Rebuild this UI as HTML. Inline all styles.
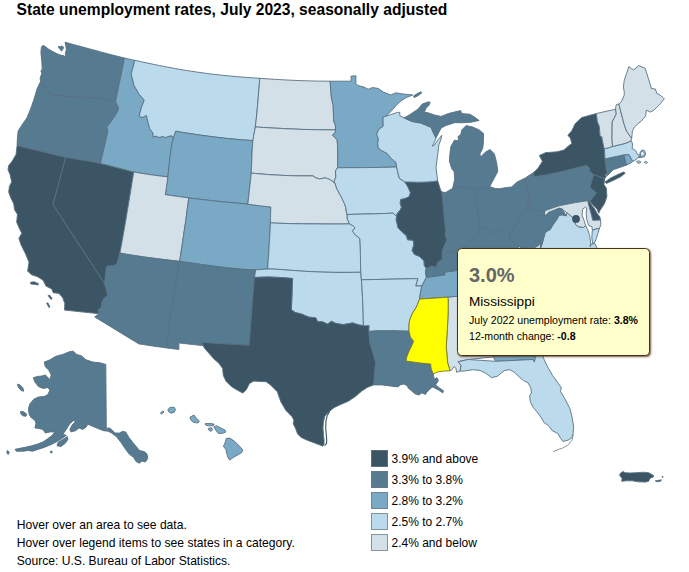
<!DOCTYPE html>
<html><head><meta charset="utf-8"><title>State unemployment rates, July 2023, seasonally adjusted</title>
<style>
html,body{margin:0;padding:0;background:#fff;}
body{width:689px;height:572px;position:relative;overflow:hidden;font-family:"Liberation Sans",Arial,sans-serif;color:#000;}
#title{position:absolute;left:16.6px;top:1px;font-size:15.6px;font-weight:bold;letter-spacing:0px;white-space:nowrap;}
svg#map{position:absolute;left:0;top:0;}
svg#map path{stroke:#587082;stroke-width:0.9;stroke-linejoin:round;}
.foot{position:absolute;left:16.7px;font-size:12.1px;white-space:nowrap;}
.leg{position:absolute;left:371px;font-size:12px;white-space:nowrap;}
.leg i{position:absolute;left:0;top:0;width:16.6px;height:16.6px;border:1px solid rgba(110,122,130,.75);box-sizing:border-box;}
.leg span{position:absolute;left:20.5px;top:1.7px;}
#tip{position:absolute;left:457px;top:248px;width:192.6px;height:107.6px;box-sizing:border-box;background:#ffffcc;border:1px solid #4a3018;border-radius:4.5px;box-shadow:1px 1px 2px rgba(70,40,15,.75);}
#tip .big{position:absolute;left:11px;top:14.5px;font-size:20px;font-weight:bold;color:#666;}
#tip .nm{position:absolute;left:11px;top:45px;font-size:13.6px;}
#tip .l1{position:absolute;left:11px;top:64.9px;font-size:10.6px;white-space:nowrap;}
#tip .l2{position:absolute;left:11px;top:80.6px;font-size:10.6px;white-space:nowrap;}
</style></head><body>
<div id="title">State unemployment rates, July 2023, seasonally adjusted</div>
<svg id="map" width="689" height="572" viewBox="0 0 689 572">
<path id="WA" d="M65.1,42.2L69.0,43.3L73.0,44.4L76.9,45.5L80.9,46.5L84.8,47.6L88.8,48.7L92.7,49.7L96.7,50.8L100.6,51.9L104.6,52.9L108.6,54.0L112.6,55.0L116.5,56.0L120.5,57.0L124.5,58.0L115.6,101.5L115.6,101.5L108.0,100.2L101.0,98.6L90.0,98.0L75.0,97.2L62.0,96.2L52.2,95.0L48.0,92.5L44.5,88.0L40.8,81.0L40.1,78.7L40.5,77.0L41.8,73.5L40.9,70.9L42.2,69.1L41.8,61.2L40.9,52.5L41.4,47.2L42.7,45.5L44.4,45.9L48.4,49.0L52.8,51.6L57.1,53.8L60.6,55.1L64.1,55.8L65.4,58.6L65.4,52.9L66.3,49.9L65.9,46.4ZM58.4,46.4L60.2,46.8L61.9,45.9L63.7,47.2L62.8,49.4L61.5,51.2L60.2,49.4L58.9,48.1Z" fill="#567a90"/>
<path id="OR" d="M40.8,81.0L44.5,88.0L48.0,92.5L52.2,95.0L62.0,96.2L75.0,97.2L90.0,98.0L101.0,98.6L108.0,100.2L115.6,101.5L118.1,106.8L118.4,110.0L114.8,116.2L110.4,122.7L106.8,127.1L107.9,131.2L100.5,163.5L96.2,162.6L91.9,161.8L87.6,161.0L83.2,160.3L78.8,159.6L74.5,158.9L70.1,158.2L65.7,157.4L17.1,145.2L17.4,138.2L18.1,131.0L21.8,125.2L26.9,117.9L30.5,109.2L34.1,99.0L37.0,88.9Z" fill="#567a90"/>
<path id="CA" d="M65.7,157.4L53.0,204.6L104.6,283.5L106.2,289.0L107.7,295.6L104.0,298.5L101.8,302.8L101.1,307.9L98.2,310.1L98.9,313.7L64.5,310.1L64.8,303.5L62.7,297.7L59.0,293.4L53.2,292.7L51.8,289.0L46.0,286.1L43.1,280.3L37.7,276.8L31.2,274.6L27.6,271.0L29.0,262.2L25.4,253.5L21.0,244.8L18.9,238.3L21.8,233.2L19.6,228.9L16.7,222.3L17.4,214.3L14.5,209.7L13.8,203.9L10.9,198.1L8.7,192.2L9.4,186.4L11.6,182.1L10.2,174.8L8.0,169.8L8.7,165.4L12.3,161.0L16.0,154.5L17.1,145.5ZM30.5,282.3L34.1,281.8L38.5,283.7L38.0,285.0L34.1,284.3L30.8,284.0ZM48.1,295.6L49.6,295.1L52.1,298.5L51.0,299.5ZM46.7,303.2L47.9,302.8L49.9,306.7L48.9,307.6Z" fill="#3b5565"/>
<path id="NV" d="M65.7,157.4L53.0,204.6L104.6,283.5L105.5,276.0L106.3,268.5L107.6,265.9L114.2,265.8L117.0,263.5L119.9,253.1L121.0,247.2L122.1,241.2L123.2,235.2L124.3,229.1L125.3,223.0L126.4,216.8L127.4,210.5L128.5,204.2L129.5,197.9L130.6,191.4L131.6,185.0L132.7,178.5L133.8,171.9L129.4,170.9L125.0,169.7L120.6,168.6L116.2,167.4L111.8,166.2L107.4,165.1L102.9,164.0L98.3,163.0L93.7,162.1L89.1,161.3L84.5,160.5L79.8,159.7L75.1,159.0L70.4,158.2Z" fill="#3b5565"/>
<path id="ID" d="M124.5,58.0L115.6,101.5L118.1,106.8L118.4,110.0L114.8,116.2L110.4,122.7L106.8,127.1L107.9,131.2L100.5,163.5L105.0,164.5L109.5,165.6L114.0,166.8L118.4,168.0L122.8,169.1L127.2,170.3L131.6,171.4L136.0,172.4L140.5,173.2L145.0,173.9L149.5,174.6L154.0,175.2L158.6,175.8L163.2,176.4L167.8,177.0L168.5,171.1L169.1,165.4L169.7,159.8L170.4,154.3L171.1,148.9L172.0,143.6L173.2,138.5L171.8,135.8L169.2,136.1L165.6,137.5L162.7,136.5L159.0,137.5L156.1,136.1L153.2,137.0L152.9,132.9L149.6,128.5L148.1,122.7L146.4,115.4L142.1,117.6L139.2,116.1L141.4,107.4L144.3,100.2L139.2,94.3L134.1,85.6L131.2,74.0L134.8,60.3L131.4,59.6L127.9,58.8Z" fill="#7aa9c6"/>
<path id="MT" d="M134.8,60.3L131.2,74.0L134.1,85.6L139.2,94.3L144.3,100.2L141.4,107.4L139.2,116.1L142.1,117.6L146.4,115.4L148.1,122.7L149.6,128.5L152.9,132.9L153.2,137.0L156.1,136.1L159.0,137.5L162.7,136.5L165.6,137.5L169.2,136.1L171.8,135.8L173.2,138.5L174.5,134.9L175.8,131.2L180.0,132.0L184.3,132.7L188.5,133.4L192.9,134.0L197.2,134.7L201.6,135.3L205.9,135.9L210.3,136.5L214.6,137.0L219.0,137.5L223.3,138.0L227.6,138.5L231.9,138.9L236.2,139.3L240.4,139.7L244.6,140.0L248.8,140.3L253.0,140.6L253.9,134.7L255.0,129.0L255.8,123.0L256.5,116.7L257.1,110.4L257.7,104.0L258.2,97.6L258.8,91.2L259.3,84.7L259.8,78.3L255.8,78.0L251.8,77.8L247.8,77.5L243.9,77.2L239.9,76.9L235.9,76.5L231.9,76.2L227.9,75.8L223.9,75.4L219.9,75.0L215.9,74.5L211.9,74.1L207.8,73.6L203.8,73.0L199.8,72.5L195.8,71.9L191.7,71.3L187.7,70.7L183.6,70.0L179.6,69.3L175.5,68.6L171.5,67.8L167.4,67.1L163.3,66.3L159.3,65.5L155.2,64.7L151.1,63.8L147.0,63.0L142.9,62.1L138.9,61.2Z" fill="#bbdaec"/>
<path id="WY" d="M175.8,131.2L180.0,132.0L184.2,132.7L188.5,133.4L192.8,134.0L197.2,134.7L201.5,135.3L205.9,135.9L210.2,136.4L214.6,137.0L218.9,137.5L223.2,138.0L227.5,138.5L231.8,138.9L236.1,139.3L240.3,139.7L244.5,140.0L248.7,140.3L252.9,140.6L252.4,146.9L252.0,153.4L251.8,160.0L251.5,166.6L251.2,173.1L250.6,179.4L249.9,185.6L249.2,191.8L248.5,197.9L247.8,204.2L243.3,203.7L238.8,203.3L234.2,202.9L229.6,202.5L225.0,202.0L220.4,201.5L215.8,201.1L211.2,200.6L206.6,200.1L201.9,199.5L197.3,199.0L192.7,198.4L188.1,197.8L183.6,197.2L179.0,196.6L174.4,195.9L169.8,195.3L165.3,194.7L166.3,187.6L167.3,180.5L168.2,173.6L168.9,167.1L169.6,160.7L170.4,154.5L171.2,148.3L172.3,142.4L173.8,136.7Z" fill="#7aa9c6"/>
<path id="UT" d="M133.8,171.9L138.0,172.7L142.2,173.4L146.4,174.1L150.6,174.7L154.9,175.3L159.2,175.9L163.5,176.4L167.8,177.0L167.0,182.9L166.2,188.8L165.3,194.7L170.0,195.3L174.7,196.0L179.4,196.6L184.1,197.3L188.8,197.9L187.9,204.5L187.0,211.1L186.2,217.6L185.3,224.0L184.3,230.3L183.4,236.6L182.5,242.9L181.5,249.1L180.6,255.2L179.6,261.4L174.9,260.8L170.3,260.3L165.6,259.7L161.0,259.2L156.4,258.6L151.9,258.0L147.3,257.4L142.7,256.8L138.2,256.1L133.6,255.4L129.1,254.7L124.5,253.9L119.9,253.1L121.0,247.2L122.1,241.2L123.2,235.2L124.3,229.1L125.3,223.0L126.4,216.8L127.4,210.5L128.5,204.2L129.5,197.9L130.6,191.4L131.6,185.0L132.7,178.5Z" fill="#d3e0e7"/>
<path id="CO" d="M188.8,197.9L193.4,198.5L198.0,199.0L202.6,199.6L207.2,200.1L211.8,200.6L216.5,201.1L221.1,201.6L225.7,202.1L230.3,202.5L234.9,202.9L239.4,203.4L243.9,203.8L248.4,204.3L252.9,204.9L257.4,205.5L261.9,206.0L266.3,206.6L270.8,207.0L270.6,213.3L270.5,219.7L270.3,225.9L270.0,232.2L269.6,238.4L269.2,244.5L268.8,250.7L268.4,256.8L268.0,262.9L267.6,269.0L262.7,269.3L257.8,269.7L252.9,269.8L248.0,269.6L243.0,269.3L238.1,268.9L233.2,268.4L228.3,267.9L223.4,267.3L218.5,266.7L213.5,266.1L208.6,265.4L203.8,264.8L198.9,264.1L194.0,263.4L189.2,262.7L184.4,262.0L179.6,261.4L180.6,255.2L181.5,249.1L182.5,242.9L183.4,236.6L184.3,230.3L185.3,224.0L186.2,217.6L187.0,211.1L187.9,204.5Z" fill="#7aa9c6"/>
<path id="AZ" d="M119.9,253.1L117.0,263.5L114.2,265.8L107.6,265.9L106.3,268.5L105.5,276.0L104.6,283.5L106.2,289.0L107.7,295.6L104.0,298.5L101.8,302.8L101.1,307.9L98.2,310.1L98.9,313.7L94.6,316.9L138.9,343.9L143.4,344.6L148.1,345.3L152.7,346.0L157.4,346.7L162.1,347.3L166.9,348.0L167.3,342.4L167.8,336.8L168.4,331.1L169.2,325.4L170.1,319.7L171.0,314.0L172.0,308.3L172.9,302.5L173.9,296.7L174.9,290.8L175.8,285.0L176.8,279.1L177.7,273.2L178.7,267.3L179.6,261.4L174.9,260.8L170.3,260.3L165.6,259.7L161.0,259.2L156.4,258.6L151.9,258.0L147.3,257.4L142.7,256.8L138.2,256.1L133.6,255.4L129.1,254.7L124.5,253.9Z" fill="#567a90"/>
<path id="NM" d="M179.6,261.4L184.2,262.0L188.9,262.7L193.6,263.3L198.3,264.0L203.1,264.7L207.8,265.3L212.6,266.0L217.4,266.6L222.1,267.2L226.9,267.7L231.7,268.3L236.5,268.7L241.3,269.2L246.0,269.5L250.8,269.8L255.6,269.8L255.1,273.6L254.5,277.4L254.0,283.1L253.5,288.8L253.1,294.6L252.6,300.3L252.1,306.0L251.7,311.6L251.3,317.3L250.8,322.9L250.4,328.4L250.0,334.0L249.5,339.6L249.1,345.2L243.9,344.9L238.7,344.6L233.5,344.3L228.2,344.1L223.0,343.8L217.7,343.4L212.4,343.1L207.0,342.7L201.6,342.2L202.6,345.6L197.9,345.1L193.2,344.6L188.5,344.1L183.7,343.5L178.9,342.9L178.9,346.2L178.9,349.5L174.9,349.0L170.9,348.5L166.9,348.0L167.3,342.4L167.8,336.8L168.4,331.1L169.2,325.4L170.1,319.7L171.0,314.0L172.0,308.3L172.9,302.5L173.9,296.7L174.9,290.8L175.8,285.0L176.8,279.1L177.7,273.2L178.7,267.3Z" fill="#567a90"/>
<path id="ND" d="M259.8,78.3L263.7,78.6L267.6,78.8L271.5,79.1L275.4,79.4L279.3,79.6L283.2,79.8L287.1,80.0L291.0,80.2L294.9,80.4L298.8,80.5L302.7,80.7L306.6,80.8L310.5,80.9L314.5,81.0L318.4,81.1L322.3,81.1L326.3,81.2L330.2,81.2L330.4,85.2L330.7,89.2L331.1,93.8L331.5,98.4L332.3,101.8L333.2,105.1L333.3,110.1L333.5,115.2L333.7,121.0L335.3,124.7L335.7,129.9L331.4,129.9L327.2,129.9L322.9,129.8L318.7,129.8L314.4,129.7L310.2,129.6L306.0,129.5L301.7,129.4L297.5,129.2L293.3,129.0L289.0,128.9L284.8,128.7L280.6,128.4L276.3,128.2L272.1,128.0L267.9,127.7L263.7,127.5L259.5,127.2L255.3,126.9L256.0,121.1L256.7,115.1L257.3,109.0L257.8,102.9L258.3,96.8L258.8,90.6L259.3,84.4Z" fill="#d3e0e7"/>
<path id="SD" d="M255.3,126.9L259.5,127.2L263.7,127.5L267.9,127.7L272.1,128.0L276.3,128.2L280.6,128.4L284.8,128.7L289.0,128.9L293.3,129.0L297.5,129.2L301.7,129.4L306.0,129.5L310.2,129.6L314.4,129.7L318.7,129.8L322.9,129.8L327.2,129.9L331.4,129.9L335.7,129.9L335.3,132.1L332.6,135.2L337.2,139.9L337.5,145.5L337.7,151.0L337.8,156.6L337.8,162.2L337.5,167.8L335.5,170.9L335.8,177.2L334.1,181.2L335.2,183.7L332.4,181.2L329.3,179.3L327.2,178.6L325.1,177.8L322.3,178.4L319.5,179.0L315.1,177.5L313.0,175.9L308.5,175.9L304.0,175.9L299.6,175.9L295.1,175.8L290.6,175.7L286.2,175.5L281.8,175.3L277.4,175.1L273.0,174.9L268.6,174.6L264.3,174.2L259.9,173.9L255.6,173.5L251.2,173.1L251.5,166.6L251.8,160.0L252.0,153.4L252.4,146.9L252.9,140.6L253.6,136.0L254.5,131.5Z" fill="#d3e0e7"/>
<path id="NE" d="M251.2,173.1L255.6,173.5L259.9,173.9L264.3,174.2L268.6,174.6L273.0,174.9L277.4,175.1L281.8,175.3L286.2,175.5L290.6,175.7L295.1,175.8L299.6,175.9L304.0,175.9L308.5,175.9L313.0,175.9L315.1,177.5L319.5,179.0L322.3,178.4L325.1,177.8L327.2,178.6L329.3,179.3L332.4,181.2L335.2,183.7L336.6,188.3L338.7,192.3L341.0,196.4L342.7,199.9L344.4,203.5L345.9,207.7L346.3,211.7L347.1,214.5L347.3,219.0L349.6,223.9L345.7,223.9L341.7,224.0L337.4,224.0L332.7,224.0L328.0,224.0L323.1,224.0L318.3,223.9L313.4,223.9L308.5,223.9L303.7,223.8L298.9,223.7L294.1,223.7L289.3,223.6L284.6,223.4L279.8,223.3L275.1,223.1L270.4,222.8L270.5,217.6L270.6,212.3L270.8,207.0L266.2,206.5L261.6,206.0L257.0,205.4L252.4,204.8L247.8,204.2L248.5,197.9L249.2,191.8L249.9,185.6L250.6,179.4Z" fill="#d3e0e7"/>
<path id="KS" d="M270.4,222.8L275.1,223.1L279.8,223.3L284.6,223.4L289.3,223.6L294.1,223.7L298.9,223.7L303.7,223.8L308.5,223.9L313.4,223.9L318.3,223.9L323.1,224.0L328.0,224.0L332.7,224.0L337.4,224.0L341.7,224.0L345.7,223.9L349.6,223.9L353.3,226.0L355.0,227.7L352.5,231.3L355.6,235.1L359.8,238.5L360.2,244.3L360.4,250.0L360.5,255.7L360.6,261.3L360.7,266.9L360.9,272.3L356.0,272.3L351.1,272.4L346.1,272.4L341.2,272.4L336.2,272.4L331.2,272.3L326.3,272.2L321.3,272.1L316.4,271.9L311.5,271.6L306.5,271.4L301.6,271.1L296.7,270.7L291.8,270.4L287.0,270.0L282.2,269.6L277.3,269.3L272.5,269.1L267.6,269.0L268.0,263.3L268.4,257.6L268.8,251.9L269.1,246.1L269.5,240.3L269.8,234.5L270.2,228.7Z" fill="#bbdaec"/>
<path id="OK" d="M255.6,269.8L260.7,269.5L265.7,269.1L270.7,269.0L275.6,269.2L280.6,269.5L285.5,269.9L290.4,270.3L295.4,270.6L300.4,271.0L305.4,271.3L310.4,271.6L315.4,271.8L320.5,272.0L325.5,272.2L330.5,272.3L335.6,272.4L340.7,272.4L345.7,272.4L350.8,272.4L355.8,272.3L360.8,272.3L361.1,276.0L361.4,279.8L361.9,285.6L362.2,291.6L362.5,297.6L362.8,303.6L363.0,309.6L363.2,315.3L363.3,320.8L363.4,325.7L363.4,325.7L359.2,325.0L355.9,324.0L352.6,322.9L348.0,323.8L343.3,324.6L339.4,324.0L335.4,323.2L331.5,321.3L327.5,324.1L322.3,321.7L317.7,321.8L315.8,317.9L312.6,317.5L309.3,317.2L305.4,315.7L301.6,314.1L298.4,313.3L295.2,312.5L291.4,309.7L291.6,303.6L291.9,297.3L292.1,291.1L292.3,284.8L292.6,278.5L287.9,278.1L283.1,277.7L278.4,277.4L273.7,277.2L268.9,277.0L264.1,277.1L259.3,277.3L254.5,277.4L255.1,273.6Z" fill="#bbdaec"/>
<path id="TX" d="M254.5,277.4L259.3,277.3L264.1,277.1L268.9,277.0L273.7,277.2L278.4,277.4L283.1,277.7L287.9,278.1L292.6,278.5L292.3,284.8L292.1,291.1L291.9,297.3L291.6,303.6L291.4,309.7L295.2,312.5L298.4,313.3L301.6,314.1L305.4,315.7L309.3,317.2L312.6,317.5L315.8,317.9L317.7,321.8L322.3,321.7L327.5,324.1L331.5,321.3L335.4,323.2L339.4,324.0L343.3,324.6L348.0,323.8L352.6,322.9L355.9,324.0L359.2,325.0L363.4,325.7L366.3,325.7L369.1,325.5L369.0,328.5L368.9,331.5L369.8,343.1L372.7,351.8L375.6,361.9L374.8,372.1L373.7,384.9L367.6,387.3L361.8,391.0L356.0,396.0L348.7,401.1L340.0,404.8L333.9,407.7L328.1,412.5L324.9,416.1L323.4,422.2L323.0,428.1L323.4,433.9L324.0,439.7L324.1,443.7L323.0,446.2L319.4,444.8L313.5,442.6L307.7,440.4L301.2,437.5L297.6,433.9L295.4,428.1L293.2,423.7L293.9,420.1L291.8,416.4L286.0,410.6L280.9,401.9L277.3,391.8L270.0,384.5L266.1,381.7L258.9,381.4L253.8,381.1L249.4,383.6L246.5,389.4L242.9,393.1L237.1,390.1L231.3,386.5L226.2,381.4L223.3,375.6L222.6,368.4L218.9,363.3L213.9,358.9L208.8,353.1L204.4,348.1L201.5,342.6L201.6,342.2L207.0,342.7L212.4,343.1L217.7,343.4L223.0,343.8L228.2,344.1L233.5,344.3L238.7,344.6L243.9,344.9L249.1,345.2L249.5,339.6L250.0,334.0L250.4,328.4L250.8,322.9L251.3,317.3L251.7,311.6L252.1,306.0L252.6,300.3L253.1,294.6L253.5,288.8L254.0,283.1Z" fill="#3b5565"/>
<path id="MN" d="M330.2,81.2L351.1,81.2L351.1,76.1L355.9,75.8L355.9,83.4L358.1,85.6L363.9,87.0L368.2,89.2L372.6,87.5L378.4,88.5L383.4,92.1L387.1,93.5L390.7,95.0L395.8,92.8L400.0,93.5L403.4,94.0L412.8,95.0L406.3,97.6L400.5,101.2L396.1,105.6L391.8,110.6L386.0,116.2L383.0,117.1L383.1,121.7L383.2,126.3L380.9,127.9L378.7,129.4L376.7,134.2L378.3,139.0L377.8,143.0L378.0,147.7L381.4,150.5L384.2,152.0L387.1,153.4L391.2,158.5L393.6,160.4L395.9,162.3L396.6,167.0L392.3,167.1L388.1,167.3L383.8,167.3L379.6,167.4L375.3,167.5L371.1,167.5L366.8,167.6L362.6,167.6L358.3,167.7L354.1,167.7L349.9,167.7L345.8,167.7L341.7,167.8L337.5,167.8L337.5,167.8L337.8,162.2L337.8,156.6L337.7,151.0L337.5,145.5L337.2,139.9L332.6,135.2L335.3,132.1L335.7,129.9L335.3,124.7L333.7,121.0L333.5,115.2L333.3,110.1L333.2,105.1L332.3,101.8L331.5,98.4L331.1,93.8L330.7,89.2L330.4,85.2L330.2,81.2Z" fill="#7aa9c6"/>
<path id="IA" d="M337.5,167.8L341.7,167.8L345.8,167.7L349.9,167.7L354.1,167.7L358.3,167.7L362.6,167.6L366.8,167.6L371.1,167.5L375.3,167.5L379.6,167.4L383.8,167.3L388.1,167.3L392.3,167.1L396.6,167.0L397.4,170.4L398.2,173.8L399.3,178.3L402.1,180.1L404.9,182.0L407.9,186.8L410.5,192.5L409.3,196.6L405.9,198.3L403.3,198.9L400.7,199.6L400.2,203.2L401.5,207.3L400.4,209.8L397.0,213.9L396.8,216.7L393.1,213.1L388.7,213.3L384.4,213.5L380.0,213.6L375.6,213.8L371.2,213.9L366.8,214.0L362.4,214.1L358.2,214.2L354.3,214.3L350.7,214.4L347.1,214.5L346.3,211.7L345.9,207.7L344.4,203.5L342.7,199.9L341.0,196.4L338.7,192.3L336.6,188.3L335.2,183.7L334.1,181.2L335.8,177.2L335.5,170.9L337.5,167.8Z" fill="#bbdaec"/>
<path id="MO" d="M347.1,214.5L350.7,214.4L354.3,214.3L358.2,214.2L362.4,214.1L366.8,214.0L371.2,213.9L375.6,213.8L380.0,213.6L384.4,213.5L388.7,213.3L393.1,213.1L396.8,216.7L396.1,219.7L397.3,224.1L398.1,227.9L402.2,231.9L406.5,235.8L407.7,239.9L410.1,239.8L413.5,240.7L413.8,244.8L412.2,250.4L414.4,254.3L417.1,255.4L419.3,256.3L424.0,260.7L424.3,265.4L426.2,268.3L426.2,268.5L425.5,272.0L426.4,277.4L424.1,281.7L422.0,286.0L415.7,286.0L417.8,278.6L361.4,279.8L361.1,276.0L360.8,272.3L360.6,266.9L360.5,261.3L360.4,255.7L360.3,250.0L360.2,244.3L359.8,238.5L355.6,235.1L352.5,231.3L355.0,227.7L353.3,226.0L349.6,223.9L347.3,219.0L347.1,214.5Z" fill="#bbdaec"/>
<path id="AR" d="M361.4,279.8L417.8,278.6L415.7,286.0L422.0,286.0L420.6,291.5L419.7,299.0L418.1,302.9L416.4,307.0L412.3,313.6L409.6,320.2L409.0,324.9L409.0,331.2L404.1,331.1L399.1,331.0L394.1,330.8L389.1,330.8L384.0,330.8L378.9,330.8L373.9,331.1L368.9,331.5L369.0,328.5L369.1,325.5L366.3,325.7L363.4,325.7L363.3,320.8L363.2,315.3L363.0,309.6L362.8,303.6L362.5,297.6L362.2,291.6L361.9,285.6Z" fill="#bbdaec"/>
<path id="LA" d="M368.9,331.5L373.9,331.1L378.9,330.8L384.0,330.8L389.1,330.8L394.1,330.8L399.1,331.0L404.1,331.1L409.0,331.2L410.5,337.3L413.6,341.3L411.4,346.5L409.8,349.7L408.2,353.0L406.7,357.3L406.0,361.1L411.1,361.7L416.0,362.4L420.9,363.1L425.7,363.6L430.6,364.0L431.2,368.9L433.4,374.0L434.1,379.1L437.0,377.7L438.5,380.6L435.6,384.9L439.2,387.8L443.5,390.7L442.8,392.9L438.5,390.0L432.7,387.1L430.5,388.5L426.9,392.2L425.4,394.4L421.8,392.9L418.9,395.1L414.5,393.6L411.8,391.0L408.2,388.1L407.5,385.9L403.9,384.0L400.2,384.9L398.1,386.9L389.4,385.9L382.1,384.9L373.7,384.9L374.8,372.1L375.6,361.9L372.7,351.8L369.8,343.1Z" fill="#567a90"/>
<path id="AL" d="M446.7,297.2L448.2,298.6L448.2,303.3L448.2,308.1L448.1,313.0L447.9,318.5L447.6,324.1L447.3,329.7L446.9,335.4L446.6,341.0L446.2,346.7L446.7,352.2L447.2,357.7L447.7,363.1L450.1,370.8L452.2,369.4L454.0,366.5L455.9,368.2L456.6,372.3L460.2,371.1L461.0,365.3L458.1,361.7L468.2,359.5L493.1,356.9L491.3,349.1L491.4,345.0L491.4,341.0L492.3,336.0L490.4,331.6L488.5,327.2L487.0,321.5L485.6,315.9L484.1,310.3L482.6,304.7L481.1,299.1L479.5,293.6L474.8,294.2L470.1,294.8L465.4,295.3L460.7,295.8L456.1,296.3L451.4,296.8Z" fill="#d3e0e7"/>
<path id="TN" d="M426.4,277.4L444.8,274.8L444.4,272.1L449.5,271.5L454.5,270.8L459.5,270.2L464.6,269.5L469.0,268.9L473.5,268.3L478.0,267.7L482.5,267.1L486.9,266.5L491.4,265.9L495.9,265.3L500.4,264.7L505.5,264.7L510.6,264.7L515.8,264.8L520.9,264.9L526.1,264.9L523.7,266.1L522.3,269.6L518.9,270.5L515.4,271.4L511.9,273.9L508.0,277.9L505.1,280.8L501.9,281.3L499.1,284.1L498.8,286.6L495.9,291.4L491.8,292.0L487.7,292.5L483.6,293.1L479.5,293.6L474.8,294.2L470.1,294.8L465.4,295.3L460.7,295.8L456.1,296.3L451.4,296.8L446.7,297.2L442.2,297.6L437.8,297.9L433.3,298.2L428.8,298.5L424.3,298.7L419.7,299.0L420.6,291.5L422.0,286.0L424.1,281.7L426.4,277.4Z" fill="#7aa9c6"/>
<path id="KY" d="M509.2,233.7L505.2,229.5L503.3,229.7L499.9,232.0L497.1,232.3L494.3,232.5L491.3,231.9L488.3,231.2L483.9,227.2L480.0,227.9L480.1,231.0L476.2,234.8L473.7,234.8L473.5,237.7L470.3,242.7L469.0,247.2L463.7,245.7L461.6,249.6L457.7,249.5L454.3,253.2L451.1,252.2L447.9,251.2L443.4,255.0L442.1,254.9L442.1,259.7L437.8,261.9L436.6,267.1L433.9,266.6L431.2,266.1L426.2,268.5L425.5,272.0L426.4,277.4L444.8,274.8L444.4,272.1L449.5,271.5L454.5,270.8L459.5,270.2L464.6,269.5L469.0,268.9L473.5,268.3L478.0,267.7L482.5,267.1L486.9,266.5L491.4,265.9L495.9,265.3L500.4,264.7L503.5,263.0L506.7,261.3L509.1,258.4L511.6,255.6L513.8,253.2L516.0,250.8L519.5,246.4L514.9,244.8L513.2,242.3L509.8,237.6L509.2,233.7Z" fill="#567a90"/>
<path id="IL" d="M404.9,182.0L408.9,182.0L412.8,182.1L416.8,182.2L420.7,182.2L424.7,182.1L428.9,181.9L433.2,181.5L437.7,180.8L439.2,185.6L440.7,190.3L441.8,192.1L442.5,198.0L443.2,204.1L443.8,210.3L444.3,216.6L444.9,222.9L445.6,229.3L445.3,235.0L447.0,239.9L444.8,244.8L442.8,250.0L442.1,254.9L442.1,259.7L437.8,261.9L436.6,267.1L433.9,266.6L431.2,266.1L426.2,268.5L426.2,268.3L424.3,265.4L424.0,260.7L419.3,256.3L417.1,255.4L414.4,254.3L412.2,250.4L413.8,244.8L413.5,240.7L410.1,239.8L407.7,239.9L406.5,235.8L402.2,231.9L398.1,227.9L397.3,224.1L396.1,219.7L396.8,216.7L397.0,213.9L400.4,209.8L401.5,207.3L400.2,203.2L400.7,199.6L403.3,198.9L405.9,198.3L409.3,196.6L410.5,192.5L407.9,186.8L404.9,182.0Z" fill="#3b5565"/>
<path id="IN" d="M441.8,192.1L445.5,192.5L451.6,188.9L452.7,188.0L456.9,187.4L460.7,187.3L464.2,187.4L467.5,187.6L470.9,187.9L474.3,188.0L474.4,188.9L475.2,194.5L476.1,199.9L476.9,205.4L477.6,210.9L478.4,216.5L479.2,222.2L480.0,227.9L480.1,231.0L476.2,234.8L473.7,234.8L473.5,237.7L470.3,242.7L469.0,247.2L463.7,245.7L461.6,249.6L457.7,249.5L454.3,253.2L451.1,252.2L447.9,251.2L443.4,255.0L442.1,254.9L442.8,250.0L444.8,244.8L447.0,239.9L445.3,235.0L445.6,229.3L445.0,223.8L444.5,218.2L444.0,212.8L443.5,207.3L442.9,201.9L442.3,196.7L441.8,191.5Z" fill="#567a90"/>
<path id="OH" d="M474.4,188.9L478.1,188.5L481.9,188.0L485.8,187.3L489.7,186.6L492.6,187.6L495.5,188.5L499.3,188.7L503.5,188.0L507.9,187.4L511.6,186.9L514.3,184.5L517.0,182.1L521.0,180.1L525.0,178.2L525.9,183.1L526.9,187.9L527.9,192.7L528.8,197.4L528.4,201.2L528.0,205.4L527.4,210.7L523.9,215.8L520.7,216.2L519.6,218.4L517.9,221.7L518.0,224.1L513.6,226.0L513.7,230.0L511.0,233.4L509.2,233.7L505.2,229.5L503.3,229.7L499.9,232.0L497.1,232.3L494.3,232.5L491.3,231.9L488.3,231.2L483.9,227.2L480.0,227.9L479.2,222.2L478.4,216.5L477.6,210.9L476.9,205.4L476.1,199.9L475.2,194.5Z" fill="#567a90"/>
<path id="WI" d="M386.0,116.2L391.8,114.3L397.6,112.4L399.8,112.4L399.8,115.7L404.1,117.9L412.1,121.5L420.8,123.0L431.0,127.3L433.9,133.9L436.0,137.9L434.6,141.8L432.4,146.2L434.6,144.8L438.2,139.7L441.8,135.3L441.1,138.9L438.9,144.8L437.9,153.0L436.0,167.4L437.7,180.8L433.2,181.5L428.9,181.9L424.7,182.1L420.7,182.2L416.8,182.2L412.8,182.1L408.9,182.0L404.9,182.0L402.1,180.1L399.3,178.3L398.2,173.8L397.4,170.4L396.6,167.0L395.9,162.3L393.6,160.4L391.2,158.5L387.1,153.4L384.2,152.0L381.4,150.5L378.0,147.7L377.8,143.0L378.3,139.0L376.7,134.2L378.7,129.4L380.9,127.9L383.2,126.3L383.1,121.7L383.0,117.1L386.0,116.2Z" fill="#bbdaec"/>
<path id="MI" d="M452.7,188.0L454.8,179.0L454.1,171.8L451.6,168.4L449.4,161.1L449.9,153.9L450.9,146.6L454.5,140.1L458.6,140.8L458.1,136.2L459.2,136.2L461.0,133.5L461.8,129.9L466.1,125.6L472.7,127.0L479.2,129.9L483.5,133.5L483.5,140.8L482.8,148.1L479.9,153.9L480.6,157.1L485.0,152.4L490.1,149.5L494.4,153.9L496.6,162.6L497.8,171.3L496.9,173.2L492.6,181.2L489.7,186.6L485.8,187.3L481.9,188.0L478.1,188.5L474.4,188.9L474.3,188.0L470.9,187.9L467.5,187.6L464.2,187.4L460.7,187.3L456.9,187.4ZM404.1,117.9L409.2,115.0L417.9,109.2L422.2,104.1L428.1,101.9L430.2,102.2L428.8,105.6L425.9,108.5L424.4,112.1L428.1,112.8L434.6,115.0L441.1,116.4L448.4,113.5L454.2,112.1L460.7,110.6L461.7,113.5L470.0,114.3L474.1,116.8L479.2,120.5L475.6,121.2L471.2,122.2L463.2,122.7L454.5,122.7L445.8,125.6L441.1,128.1L436.0,137.9L433.9,133.9L431.0,127.3L420.8,123.0L412.1,121.5ZM413.5,96.1L416.4,94.0L420.8,91.8L421.8,92.9L417.9,95.8L414.3,97.6Z" fill="#567a90"/>
<path id="PA" d="M544.6,210.8L540.3,210.7L535.9,210.4L531.5,210.2L530.6,205.9L529.7,201.7L528.8,197.4L527.9,192.7L526.9,187.9L525.9,183.1L525.0,178.2L527.3,176.6L529.7,175.0L533.6,172.6L534.4,176.7L539.0,176.0L543.6,175.2L548.1,174.4L552.7,173.4L557.1,172.5L561.6,171.5L566.0,170.4L570.3,169.3L574.5,168.3L578.7,167.2L582.7,166.2L586.6,165.2L589.6,168.0L590.0,171.4L593.7,174.7L592.4,179.0L590.1,187.2L596.5,193.0L590.1,201.1L589.7,201.3L587.7,200.7L575.5,202.6L559.2,205.7Z" fill="#567a90"/>
<path id="NY" d="M534.4,176.7L533.6,172.6L535.8,170.4L538.0,168.2L540.2,164.8L542.4,161.3L539.3,155.5L542.5,154.1L545.7,152.6L549.4,152.4L553.1,152.1L556.8,151.8L560.4,150.9L563.9,150.0L566.4,147.8L568.8,145.7L571.9,143.6L570.4,138.3L567.9,135.2L569.9,132.9L571.9,130.6L573.4,127.4L574.9,124.1L578.3,120.8L581.7,117.5L585.4,116.5L589.0,115.5L592.7,114.6L596.3,113.6L596.9,117.7L597.4,121.8L599.3,126.3L599.7,131.3L600.1,136.2L601.7,136.6L602.9,143.0L604.3,149.0L604.7,153.9L605.0,158.9L605.8,164.9L606.5,171.1L607.5,172.3L605.0,175.0L606.2,176.3L605.4,177.9L604.6,178.5L593.7,174.7L590.0,171.4L589.6,168.0L586.6,165.2L582.7,166.2L578.7,167.2L574.5,168.3L570.3,169.3L566.0,170.4L561.6,171.5L557.1,172.5L552.7,173.4L548.1,174.4L543.6,175.2L539.0,176.0ZM605.0,182.0L610.7,178.0L617.7,174.5L623.8,171.9L625.2,173.2L620.3,176.9L612.5,180.8L606.4,183.4Z" fill="#3b5565"/>
<path id="NJ" d="M593.7,174.7L604.6,178.5L604.0,184.8L606.4,188.3L606.9,196.5L604.6,203.4L600.0,210.4L598.8,213.3L597.1,209.2L592.4,204.6L590.1,201.1L596.5,193.0L590.1,187.2L592.4,179.0L593.7,174.7Z" fill="#3b5565"/>
<path id="DE" d="M587.7,200.7L588.7,205.2L590.7,212.3L592.8,220.4L600.4,220.1L599.9,216.8L597.3,213.8L594.8,209.2L591.8,205.2L589.7,201.3Z" fill="#3b5565"/>
<path id="MD" d="M544.6,210.8L559.2,205.7L575.5,202.6L587.7,200.7L588.7,205.2L590.7,212.3L592.8,220.4L600.4,220.1L600.9,224.5L599.4,228.5L595.8,229.0L592.3,230.1L592.0,226.7L588.7,225.5L586.7,219.4L586.2,213.3L586.7,208.0L585.6,207.0L582.6,209.2L582.1,215.3L584.1,220.4L585.6,225.5L583.6,227.5L578.5,227.0L575.5,224.5L574.5,221.6L573.0,217.9L569.4,214.8L566.9,212.8L562.3,209.2L559.2,208.2L554.6,210.2L549.1,212.3L545.0,215.8L544.5,216.8Z" fill="#d3e0e7"/>
<path id="VA" d="M585.6,225.5L583.6,227.5L578.5,227.0L575.5,224.5L574.5,221.6L573.0,217.9L569.4,214.8L566.9,212.8L566.3,215.8L562.3,214.8L559.2,215.3L556.2,220.4L553.1,224.5L550.1,229.6L547.0,231.1L545.0,233.1L542.1,243.8L540.6,247.8L540.3,242.8L538.2,245.5L535.6,247.0L533.0,248.5L527.9,248.7L524.1,251.3L519.5,246.4L516.0,250.8L513.8,253.2L511.6,255.6L509.1,258.4L506.7,261.3L503.5,263.0L500.4,264.7L505.4,263.9L510.5,263.2L515.6,262.5L520.6,261.8L525.7,261.1L530.6,260.4L535.5,259.8L540.4,259.1L545.3,258.5L550.2,257.8L555.0,257.1L559.8,256.4L564.6,255.6L569.4,254.8L574.2,253.9L578.9,253.0L583.6,252.1L588.3,251.1L592.9,250.1L597.6,249.0L594.8,243.5L591.1,244.1L590.2,246.8L590.7,242.8L589.7,235.7L587.7,229.6ZM599.4,228.5L597.9,233.6L596.3,238.7L594.8,242.3L592.8,243.8L591.8,237.7L592.3,230.6L595.8,229.0Z" fill="#bbdaec"/>
<path id="WV" d="M528.8,197.4L529.7,201.7L530.6,205.9L531.5,210.2L535.9,210.4L540.3,210.7L544.6,210.8L544.5,216.8L545.0,215.8L549.1,212.3L554.6,210.2L559.2,208.2L562.3,209.2L566.3,215.8L562.3,214.8L559.2,215.3L556.2,220.4L553.1,224.5L550.1,229.6L547.0,231.1L545.0,233.1L542.1,243.8L540.6,247.8L540.3,242.8L538.2,245.5L535.6,247.0L533.0,248.5L527.9,248.7L524.1,251.3L519.5,246.4L514.9,244.8L513.2,242.3L509.8,237.6L509.2,233.7L511.0,233.4L513.7,230.0L513.6,226.0L518.0,224.1L517.9,221.7L519.6,218.4L520.7,216.2L523.9,215.8L527.4,210.7L528.0,205.4L528.4,201.2L528.8,197.4Z" fill="#567a90"/>
<path id="NC" d="M495.9,291.4L498.8,286.6L499.1,284.1L501.9,281.3L505.1,280.8L508.0,277.9L511.9,273.9L515.4,271.4L518.9,270.5L522.3,269.6L523.7,266.1L526.1,264.9L525.7,261.1L530.6,260.4L535.5,259.8L540.4,259.1L545.3,258.5L550.2,257.8L555.0,257.1L559.8,256.4L564.6,255.6L569.4,254.8L574.2,253.9L578.9,253.0L583.6,252.1L588.3,251.1L592.9,250.1L597.6,249.0L600.2,254.1L602.5,257.2L604.7,260.3L605.5,264.4L606.2,268.6L603.7,270.6L601.1,272.6L598.6,276.8L596.0,281.1L593.0,281.2L590.0,281.3L587.8,283.2L585.5,285.0L583.1,290.9L580.6,296.7L576.8,297.5L573.0,298.3L567.3,294.1L561.7,289.9L556.0,285.7L551.2,286.4L546.4,287.1L541.6,287.8L539.2,283.5L537.6,282.9L533.6,283.3L529.5,283.7L525.4,284.1L521.4,284.5L518.1,286.1L514.7,287.7L511.4,289.2L507.5,289.8L503.7,290.3L499.8,290.9Z" fill="#567a90"/>
<path id="SC" d="M511.4,289.2L514.7,287.7L518.1,286.1L521.4,284.5L525.4,284.1L529.5,283.7L533.6,283.3L537.6,282.9L539.2,283.5L541.6,287.8L546.4,287.1L551.2,286.4L556.0,285.7L561.7,289.9L567.3,294.1L573.0,298.3L569.0,301.5L567.8,305.9L566.5,310.2L564.5,313.9L561.6,316.6L558.7,319.2L555.5,322.6L552.4,326.1L549.7,330.7L547.8,333.0L543.6,330.9L539.3,324.9L537.0,318.6L533.5,315.2L530.0,311.9L524.6,307.2L520.2,303.7L517.8,300.7L515.4,297.7L512.2,296.1L509.0,294.5L511.4,289.2Z" fill="#7aa9c6"/>
<path id="GA" d="M479.5,293.6L483.6,293.1L487.7,292.5L491.8,292.0L495.9,291.4L499.8,290.9L503.7,290.3L507.5,289.8L511.4,289.2L509.0,294.5L512.2,296.1L515.4,297.7L517.8,300.7L520.2,303.7L524.6,307.2L530.0,311.9L533.5,315.2L537.0,318.6L539.3,324.9L543.6,330.9L547.8,333.0L545.5,338.9L543.8,345.8L543.6,349.2L543.4,352.5L543.5,353.5L536.5,353.0L535.4,357.3L534.4,362.1L533.0,359.5L495.7,361.3L493.1,356.9L491.3,349.1L491.4,345.0L491.4,341.0L492.3,336.0L490.4,331.6L488.5,327.2L487.0,321.5L485.6,315.9L484.1,310.3L482.6,304.7L481.1,299.1Z" fill="#7aa9c6"/>
<path id="FL" d="M458.1,361.7L468.2,359.5L495.7,361.3L533.0,359.5L534.4,362.1L535.4,357.3L536.5,353.0L543.5,353.5L543.1,357.3L546.8,365.3L552.6,375.5L558.4,383.5L561.3,387.8L560.5,391.4L565.6,400.1L570.0,408.9L572.2,417.6L573.6,426.3L573.1,433.5L571.7,437.9L568.1,440.1L563.0,441.5L560.8,438.6L557.9,433.5L552.1,430.6L548.5,425.6L544.1,422.7L541.2,417.6L536.9,411.8L533.2,407.4L530.3,401.6L529.6,395.8L531.5,392.9L530.8,387.8L527.9,382.7L523.5,380.6L519.2,376.9L514.8,372.6L509.8,369.7L504.7,370.4L501.8,372.6L497.4,376.2L491.6,377.7L485.8,373.3L480.0,370.4L472.6,369.7L463.9,371.1L460.2,371.1L461.0,365.3Z" fill="#bbdaec"/>
<path id="CT" d="M605.0,158.9L608.5,158.1L612.1,157.3L615.9,156.5L619.9,155.7L623.9,154.8L626.5,165.1L613.3,169.7L607.2,175.8L605.2,174.0L605.0,175.0L607.5,172.3L606.5,171.1L605.8,164.9Z" fill="#567a90"/>
<path id="RI" d="M623.9,154.8L629.0,154.5L632.8,161.4L630.1,163.4L626.5,165.1Z" fill="#7aa9c6"/>
<path id="MA" d="M604.3,149.0L606.9,148.2L609.7,147.4L612.5,146.5L625.5,143.3L631.1,140.8L632.1,142.3L632.6,145.3L632.1,148.4L635.6,150.4L637.7,154.5L639.7,155.5L640.2,152.2L642.0,149.9L644.5,150.7L645.6,154.0L644.5,156.7L641.2,157.5L638.7,157.7L638.7,156.7L640.9,156.3L643.6,155.7L644.4,154.0L643.6,151.8L642.1,151.2L640.9,152.6L640.7,156.0L638.7,157.3L637.2,158.5L635.1,160.1L632.8,161.4L629.0,154.5L623.9,154.8L619.9,155.7L615.9,156.5L612.1,157.3L608.5,158.1L605.0,158.9L604.7,153.9ZM636.7,161.4L638.7,160.8L640.7,161.8L640.2,163.1L637.7,163.1ZM644.3,162.1L646.3,161.4L647.5,162.6L645.8,163.6Z" fill="#bbdaec"/>
<path id="VT" d="M596.3,113.6L600.1,112.7L604.0,111.8L607.9,110.9L611.7,110.1L615.6,109.2L616.3,113.9L612.2,121.9L612.0,138.5L612.5,146.5L609.7,147.4L606.9,148.2L604.3,149.0L602.9,143.0L601.7,136.6L600.1,136.2L599.7,131.3L599.3,126.3L597.4,121.8L596.9,117.7Z" fill="#d3e0e7"/>
<path id="NH" d="M612.5,146.5L612.0,138.5L612.2,121.9L616.3,113.9L615.6,109.2L615.9,106.2L616.5,104.5L618.8,104.0L618.8,104.0L624.2,124.5L626.5,131.1L631.6,138.2L631.1,140.8L625.5,143.3Z" fill="#d3e0e7"/>
<path id="ME" d="M631.6,138.2L626.5,131.1L624.2,124.5L618.8,104.0L621.3,101.8L624.1,95.6L624.3,92.3L623.4,86.9L623.8,83.5L624.3,80.2L626.6,73.4L628.8,66.6L631.3,68.5L633.4,69.9L636.1,68.0L638.4,65.5L643.1,67.4L645.2,68.2L646.9,73.8L648.7,79.3L650.4,84.9L651.3,88.6L655.4,89.0L656.8,93.4L659.1,94.4L663.4,97.8L664.3,98.8L662.4,101.1L660.6,103.5L658.4,105.8L656.1,108.0L653.4,110.5L650.4,112.1L646.3,110.1L645.7,115.9L643.5,118.5L641.3,121.1L638.4,123.4L636.6,125.1L634.7,126.8L633.1,129.6L632.4,131.4L632.1,134.6Z" fill="#d3e0e7"/>
<path id="MS" d="M419.7,299.0L424.3,298.7L428.8,298.5L433.3,298.2L437.8,297.9L442.2,297.6L446.7,297.2L448.2,298.6L448.2,303.3L448.2,308.1L448.1,313.0L447.9,318.5L447.6,324.1L447.3,329.7L446.9,335.4L446.6,341.0L446.2,346.7L446.7,352.2L447.2,357.7L447.7,363.1L450.1,370.8L443.5,371.1L437.7,371.9L433.4,374.0L431.2,368.9L430.6,364.0L425.7,363.6L420.9,363.1L416.0,362.4L411.1,361.7L406.0,361.1L406.7,357.3L408.2,353.0L409.8,349.7L411.4,346.5L413.6,341.3L410.5,337.3L409.0,331.2L409.0,324.9L409.6,320.2L412.3,313.6L416.4,307.0L418.1,302.9L419.7,299.0Z" fill="#ffff00" style="stroke:#77772a"/>
<circle id="DC" cx="576.0" cy="218.9" r="3.9" fill="#3b5565"/>
<path id="AK" d="M44.2,362.1L50.0,359.8L55.8,356.3L62.8,354.4L69.8,351.6L73.3,351.2L76.7,354.4L81.4,355.8L86.0,359.8L93.0,362.1L100.0,362.8L105.8,364.4L106.3,428.4L109.3,427.9L111.6,429.5L115.1,433.0L119.8,433.0L122.1,431.4L125.6,431.9L129.1,437.7L133.7,443.5L139.5,450.5L144.2,451.6L147.0,454.0L147.7,458.6L145.3,462.1L141.9,460.9L139.5,463.3L136.0,461.4L133.7,457.4L129.1,454.0L125.6,449.3L120.9,442.3L116.3,436.5L111.6,433.0L108.1,431.2L103.5,430.7L97.7,428.4L91.9,426.0L87.9,424.2L86.0,427.2L82.6,429.5L79.1,427.9L75.6,430.7L70.9,431.9L69.8,429.5L72.1,424.9L75.6,421.4L73.3,420.7L69.8,423.7L66.3,429.5L62.8,434.2L66.3,435.3L61.6,438.8L55.8,442.3L50.0,445.1L44.2,447.4L38.4,449.3L32.6,451.2L27.9,450.5L23.3,451.2L16.3,451.2L15.1,449.3L20.9,448.1L26.7,447.0L31.4,445.8L37.2,444.2L43.0,441.9L47.7,438.8L52.3,435.3L54.7,431.9L50.0,431.9L45.3,433.0L43.0,429.5L38.4,428.4L34.9,427.9L36.0,423.7L34.9,420.2L31.4,417.9L29.1,414.4L28.4,408.6L29.8,404.0L33.7,399.3L38.4,397.0L44.2,396.5L47.7,394.7L50.0,390.0L47.7,387.7L43.0,388.4L38.4,386.5L34.9,381.9L33.3,377.7L37.2,376.5L41.9,376.0L45.3,374.9L47.7,377.2L50.0,379.5L51.2,374.9L48.8,370.2L45.3,366.7ZM17.4,384.2L19.8,384.7L22.8,387.7L23.7,391.2L21.4,390.7L18.6,387.7ZM20.5,411.6L23.3,411.6L26.7,414.0L26.0,416.3L22.8,415.8L20.9,414.0ZM57.0,445.8L58.1,442.3L62.8,439.5L67.4,436.5L67.9,439.5L65.1,443.5L60.9,446.5ZM7.0,450.5L9.3,452.1L8.4,454.4L7.0,453.5ZM50.5,451.2L52.1,451.2L52.1,452.8L50.5,452.8Z" fill="#567a90"/>
<path id="HI" d="M160.4,412.9L162.8,411.0L164.0,411.8L161.5,414.2ZM167.9,409.4L170.0,407.5L173.9,407.1L175.5,409.4L174.3,412.2L171.1,413.2L168.4,411.6ZM189.9,417.3L193.9,415.0L196.3,418.1L199.5,421.3L197.9,422.9L193.9,422.5L191.2,420.5ZM205.1,423.7L209.9,423.4L214.2,424.1L213.5,425.7L208.3,425.8L205.6,425.0ZM208.7,428.2L211.5,427.7L212.7,429.8L210.7,431.4L208.7,430.1ZM213.9,426.9L216.3,425.7L220.2,427.7L225.0,430.1L225.8,432.0L222.6,433.3L218.6,433.6L216.3,430.9ZM226.3,438.4L229.8,438.1L234.6,441.3L239.4,446.1L242.9,450.1L241.8,452.5L237.0,455.3L233.0,457.6L229.8,460.1L228.2,458.1L226.9,454.1L225.8,449.3L223.4,446.4L225.0,442.9Z" fill="#7aa9c6"/>
<path id="PR" d="M619.7,474.0L622.7,471.4L625.2,472.7L630.3,473.0L636.4,472.7L643.5,472.2L648.6,472.7L653.2,475.2L653.7,476.8L650.1,478.3L648.6,481.3L645.6,482.1L638.4,481.8L632.4,480.8L626.3,480.8L621.7,481.3L622.0,478.3L620.2,476.3ZM655.2,480.8L658.8,480.3L661.3,479.8L660.8,481.1L657.2,481.8ZM661.8,476.8L663.0,476.3L662.8,477.5Z" fill="#3b5565"/>
<path id="padre" d="M329.8,411.1L327.3,415.3L326.0,420.8L325.7,428.1L326.2,433.9L326.7,439.7L326.6,443.3L324.6,445.6" fill="none" style="stroke:#3b5565;stroke-width:1.1"/>
<path id="keys" d="M573.4,434.3L572.1,440.1L568.3,444.9L562.5,448.1L558.2,449.5L553.0,451.7" fill="none" style="stroke:#7d8b94;stroke-width:0.9"/>

</svg>
<div class="leg" style="top:450.2px"><i style="background:#3b5565"></i><span>3.9% and above</span></div>
<div class="leg" style="top:471.1px"><i style="background:#567a90"></i><span>3.3% to 3.8%</span></div>
<div class="leg" style="top:492.1px"><i style="background:#7aa9c6"></i><span>2.8% to 3.2%</span></div>
<div class="leg" style="top:513.1px"><i style="background:#bbdaec"></i><span>2.5% to 2.7%</span></div>
<div class="leg" style="top:534.1px"><i style="background:#d3e0e7"></i><span>2.4% and below</span></div>
<div class="foot" style="top:517.7px">Hover over an area to see data.</div>
<div class="foot" style="top:535.7px">Hover over legend items to see states in a category.</div>
<div class="foot" style="top:553.7px">Source: U.S. Bureau of Labor Statistics.</div>
<div id="tip"><div class="big">3.0%</div><div class="nm">Mississippi</div><div class="l1">July 2022 unemployment rate: <b>3.8%</b></div><div class="l2">12-month change: <b>-0.8</b></div></div>

</body></html>
